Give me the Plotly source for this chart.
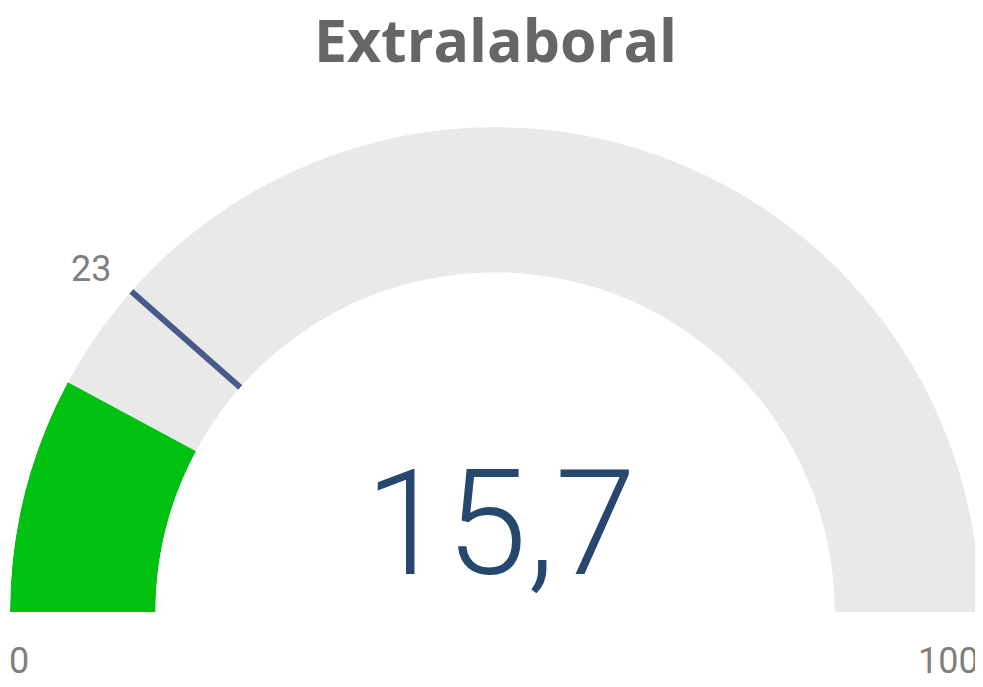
import plotly.graph_objects as go

# ---- data ----
title_text = "Extralaboral"
gauge_min = 0
gauge_max = 100
value = 15.7
target = 23

# colours
bg_color = "#E9E9E9"
bar_color = "#00C010"
target_color = "#485A8A"
value_color = "#26476E"
label_color = "#7F7F7F"
title_color = "#666666"

deg_per_unit = 180.0 / (gauge_max - gauge_min)

def to_theta(v):
    return (v - gauge_min) * deg_per_unit

fig = go.Figure()

# background arc
fig.add_trace(go.Barpolar(
    r=[1], base=[0],
    theta=[to_theta((gauge_min + gauge_max) / 2)],
    width=[to_theta(gauge_max)],
    marker=dict(color=bg_color, line=dict(width=0)),
    hoverinfo="skip", showlegend=False,
))

# value arc
fig.add_trace(go.Barpolar(
    r=[1], base=[0],
    theta=[to_theta(value) / 2],
    width=[to_theta(value)],
    marker=dict(color=bar_color, line=dict(width=0)),
    hoverinfo="skip", showlegend=False,
))

# target line
fig.add_trace(go.Scatterpolar(
    r=[0, 1], theta=[to_theta(target), to_theta(target)],
    mode="lines", line=dict(color=target_color, width=6),
    hoverinfo="skip", showlegend=False,
))

label_font = dict(family="Roboto", size=36, color=label_color)

fig.update_layout(
    width=975, height=679,
    margin=dict(l=2, r=3, t=119, b=75),
    paper_bgcolor="white", plot_bgcolor="white",
    title=dict(text=f"<b>{title_text}</b>", x=0.5, xanchor="center",
               y=0.951, yanchor="middle", yref="container",
               font=dict(family="Open Sans", size=59, color=title_color)),
    polar=dict(
        domain=dict(x=[0, 1], y=[0, 1]),
        sector=[0, 180], hole=0.70, bgcolor="rgba(0,0,0,0)",
        radialaxis=dict(visible=False, range=[0, 1]),
        angularaxis=dict(visible=False, rotation=180, direction="clockwise"),
    ),
    annotations=[
        dict(text=f"{value:.1f}".replace(".", ","), x=0.506, y=0.18,
             xref="paper", yref="paper", xanchor="center", yanchor="middle",
             showarrow=False,
             font=dict(family="Roboto", size=146, color=value_color, weight=300)),
        dict(text=str(gauge_min), x=0.0093, y=-0.102, xref="paper", yref="paper",
             xanchor="center", yanchor="middle", showarrow=False, font=label_font),
        dict(text=str(gauge_max), x=0.968, y=-0.102, xref="paper", yref="paper",
             xanchor="center", yanchor="middle", showarrow=False, font=label_font),
        dict(text=str(target), x=0.0835, y=0.707, xref="paper", yref="paper",
             xanchor="center", yanchor="middle", showarrow=False, font=label_font),
    ],
)

fig.write_html("out.html")
